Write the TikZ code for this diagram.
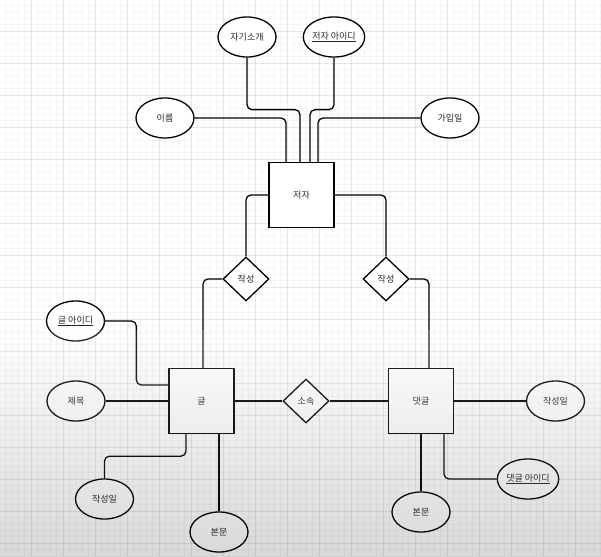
\documentclass[tikz,border=0pt]{standalone}
\usepackage{fontspec}
\newfontfamily\kr{Noto Sans CJK KR}
\usetikzlibrary{calc, shapes.geometric}

\begin{document}
\begin{tikzpicture}[x=1pt, y=-1pt, line width=1.3pt,
  entity/.style={draw, rectangle, fill=white, minimum width=65pt, minimum height=65pt, inner sep=0pt},
  attr/.style={draw, ellipse, fill=white, minimum width=58pt, minimum height=40pt, inner sep=0pt},
  rel/.style={draw, diamond, fill=white, minimum width=46pt, minimum height=44pt, inner sep=0pt},
  link/.style={rounded corners=5pt},
  font=\kr\fontsize{9}{10}\selectfont, text=black!85,
]
  \useasboundingbox (0,0) rectangle (601,556);
  % 배경 격자
  \fill[white] (0,0) rectangle (601,556);
  \foreach \i in {0,...,94} {
    \draw[black, opacity=0.035, line width=0.5pt] (\i*6.4-1,0) -- (\i*6.4-1,556);
    \draw[black, opacity=0.035, line width=0.5pt] (0,\i*6.4-1) -- (601,\i*6.4-1);
  }
  \foreach \i in {0,...,19} {
    \draw[black, opacity=0.06, line width=0.8pt] (\i*32-1,0) -- (\i*32-1,556);
    \draw[black, opacity=0.06, line width=0.8pt] (0,\i*32-1) -- (601,\i*32-1);
  }

  \node[entity] (jeoja) at (301.5,195) {저자};
  \node[entity] (geul)  at (201.5,401) {글};
  \node[entity] (daet)  at (421,401)   {댓글};

  \node[rel] (wr1)   at (246,279) {작성};
  \node[rel] (wr2)   at (386,279) {작성};
  \node[rel] (sosok) at (306,401) {소속};

  \node[attr] (jagi)  at (247,37)  {자기소개};
  \node[attr] (jid)   at (334,37)  {\underline{저자 아이디}};
  \node[attr] (ireum) at (165,118) {이름};
  \node[attr] (gaip)  at (450,118) {가입일};

  \node[attr] (gid)   at (75.5,321) {\underline{글 아이디}};
  \node[attr] (title) at (76,401)   {제목};
  \node[attr] (date1) at (104.5,499) {작성일};
  \node[attr] (body1) at (219,532)  {본문};

  \node[attr] (date2) at (555.5,401) {작성일};
  \node[attr] (body2) at (421,512)   {본문};
  \node[attr] (did)   at (528,479)   {\underline{댓글 아이디}};

  % 저자 속성
  \draw[link] (ireum.east) -| ($(jeoja.north)+(-15.5,0)$);
  \draw[link] (jagi.south) -- ++(0,52) -| ($(jeoja.north)+(-1.5,0)$);
  \draw[link] (jid.south) -- ++(0,52) -| ($(jeoja.north)+(8.5,0)$);
  \draw[link] (gaip.west) -| ($(jeoja.north)+(16.5,0)$);

  % 관계
  \draw[link] (jeoja.west) -| (wr1.north);
  \draw[link] (jeoja.east) -| (wr2.north);
  \draw[link] (wr1.west) -| ($(geul.north)+(1.5,0)$);
  \draw[link] (wr2.east) -| ($(daet.north)+(8,0)$);
  \draw (geul.east) -- (sosok.west);
  \draw (sosok.east) -- (daet.west);

  % 글 속성
  \draw[link] (gid.east) -| ($(geul.west)+(-32,-16)$) -- ($(geul.west)+(0,-16)$);
  \draw (title.east) -- (geul.west);
  \draw[link] ($(geul.south)+(-15.5,0)$) -- ++(0,22) -| (date1.north);
  \draw (geul.south -| body1.north) -- (body1.north);

  % 댓글 속성
  \draw (daet.east) -- (date2.west);
  \draw (daet.south) -- (body2.north);
  \draw[link] ($(daet.south)+(23,0)$) |- (did.west);

  % 아래쪽 그림자
  \shade[top color=white, bottom color=black, opacity=0.15] (0,330) rectangle (601,556);
\end{tikzpicture}
\end{document}
